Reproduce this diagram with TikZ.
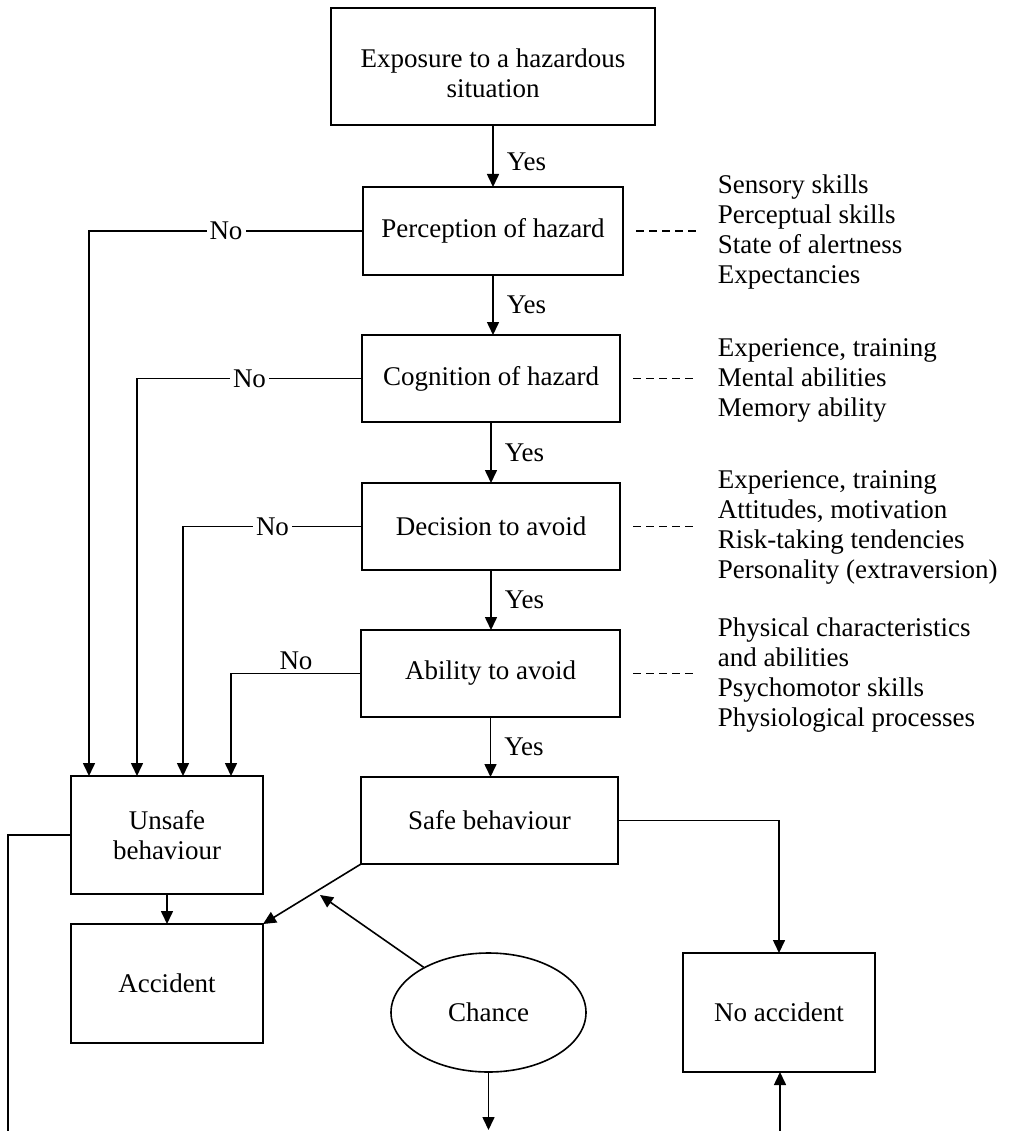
\documentclass[tikz,border=0pt]{standalone}
\usepackage{fontspec}
\setmainfont{Liberation Serif}
\usetikzlibrary{arrows.meta,shapes.geometric}
\begin{document}
\begin{tikzpicture}[x=1pt,y=-1pt,
  font=\fontsize{27}{30}\selectfont,
  line width=1.6pt,
  box/.style={draw, rectangle, inner sep=0pt, outer sep=0pt, align=center, minimum width=258pt, minimum height=87pt},
  arr/.style={-{Triangle[length=13pt,width=12pt]}},
  yeslab/.style={right, inner sep=1pt, xshift=12pt},
  nolab/.style={fill=white, inner sep=3pt},
  factors/.style={anchor=west, align=left, inner sep=0pt},
  dashline/.style={dash pattern=on 8pt off 5pt},
]
\useasboundingbox (0,0) rectangle (1009,1131);

% main boxes
\node[box, minimum width=324pt, minimum height=117pt,
      label={[align=center, yshift=-7pt]center:Exposure to a hazardous\\situation}] (exp) at (493,66.5) {};
\node[box, minimum width=260pt, minimum height=88pt] (perc) at (493,231) {Perception of hazard};
\node[box] (cogn) at (491,378.5) {Cognition of hazard};
\node[box] (dec) at (491,526.5) {Decision to avoid};
\node[box, minimum width=259pt] (abil) at (490.5,673.5) {Ability to avoid};
\node[box, minimum width=257pt] (safe) at (489.5,820.5) {Safe behaviour};
\node[box, minimum width=192pt, minimum height=118pt] (unsafe) at (167,835) {Unsafe\\behaviour};
\node[box, minimum width=192pt, minimum height=119pt] (acc) at (167,983.5) {Accident};
\node[box, minimum width=192pt, minimum height=119pt] (noacc) at (779,1012.5) {No accident};
\node[draw, ellipse, inner sep=0pt, minimum width=195pt, minimum height=119pt] (chance) at (488.5,1012.5) {Chance};

% factor lists
\node[factors] (f1) at (717,232) {Sensory skills\\Perceptual skills\\State of alertness\\Expectancies};
\node[factors] (f2) at (717,380) {Experience, training\\Mental abilities\\Memory ability};
\node[factors] (f3) at (717,527.5) {Experience, training\\Attitudes, motivation\\Risk-taking tendencies\\Personality (extraversion)};
\node[factors] (f4) at (717,675) {Physical characteristics\\and abilities\\Psychomotor skills\\Physiological processes};

% dashed links
\draw[dashline] ([xshift=13pt]perc.east) -- ([xshift=-20pt]perc.east -| f1.west);
\draw[dashline] ([xshift=13pt]cogn.east) -- ([xshift=-20pt]cogn.east -| f2.west);
\draw[dashline] ([xshift=13pt]dec.east) -- ([xshift=-20pt]dec.east -| f3.west);
\draw[dashline] ([xshift=13pt]abil.east) -- ([xshift=-20pt]abil.east -| f4.west);

% yes arrows
\draw[arr] (exp.south) -- node[yeslab, yshift=-6pt]{Yes} (exp.south |- perc.north);
\draw[arr] (perc.south) -- node[yeslab]{Yes} (perc.south |- cogn.north);
\draw[arr] (cogn.south) -- node[yeslab]{Yes} (cogn.south |- dec.north);
\draw[arr] (dec.south) -- node[yeslab]{Yes} (dec.south |- abil.north);
\draw[arr] (abil.south) -- node[yeslab]{Yes} (abil.south |- safe.north);

% no arrows
\draw[arr] (perc.west) -| node[nolab, pos=0.25]{No} ([xshift=-78pt]unsafe.north);
\draw[arr] (cogn.west) -| node[nolab, pos=0.25]{No} ([xshift=-30pt]unsafe.north);
\draw[arr] (dec.west) -| node[nolab, pos=0.25]{No} ([xshift=16pt]unsafe.north);
\draw[arr] (abil.west) -| node[pos=0.25, above, inner sep=3pt]{No} ([xshift=64pt]unsafe.north);

% outcomes
\draw[arr] (unsafe.south) -- (acc.north);
\draw[arr] (safe.east) -| (noacc.north);
\draw[arr] (safe.south west) -- (acc.north east);
\coordinate (ctip) at (320,895);
\draw[arr] (chance) -- (ctip);
\coordinate (cbot) at (488.5,1130);
\draw[arr] (chance.south) -- (cbot);
\coordinate (nbot) at (780,1131);
\draw[arr] (nbot) -- (nbot |- noacc.south);
\coordinate (lbot) at (8,1131);
\draw (unsafe.west) -| (lbot);
\end{tikzpicture}
\end{document}
